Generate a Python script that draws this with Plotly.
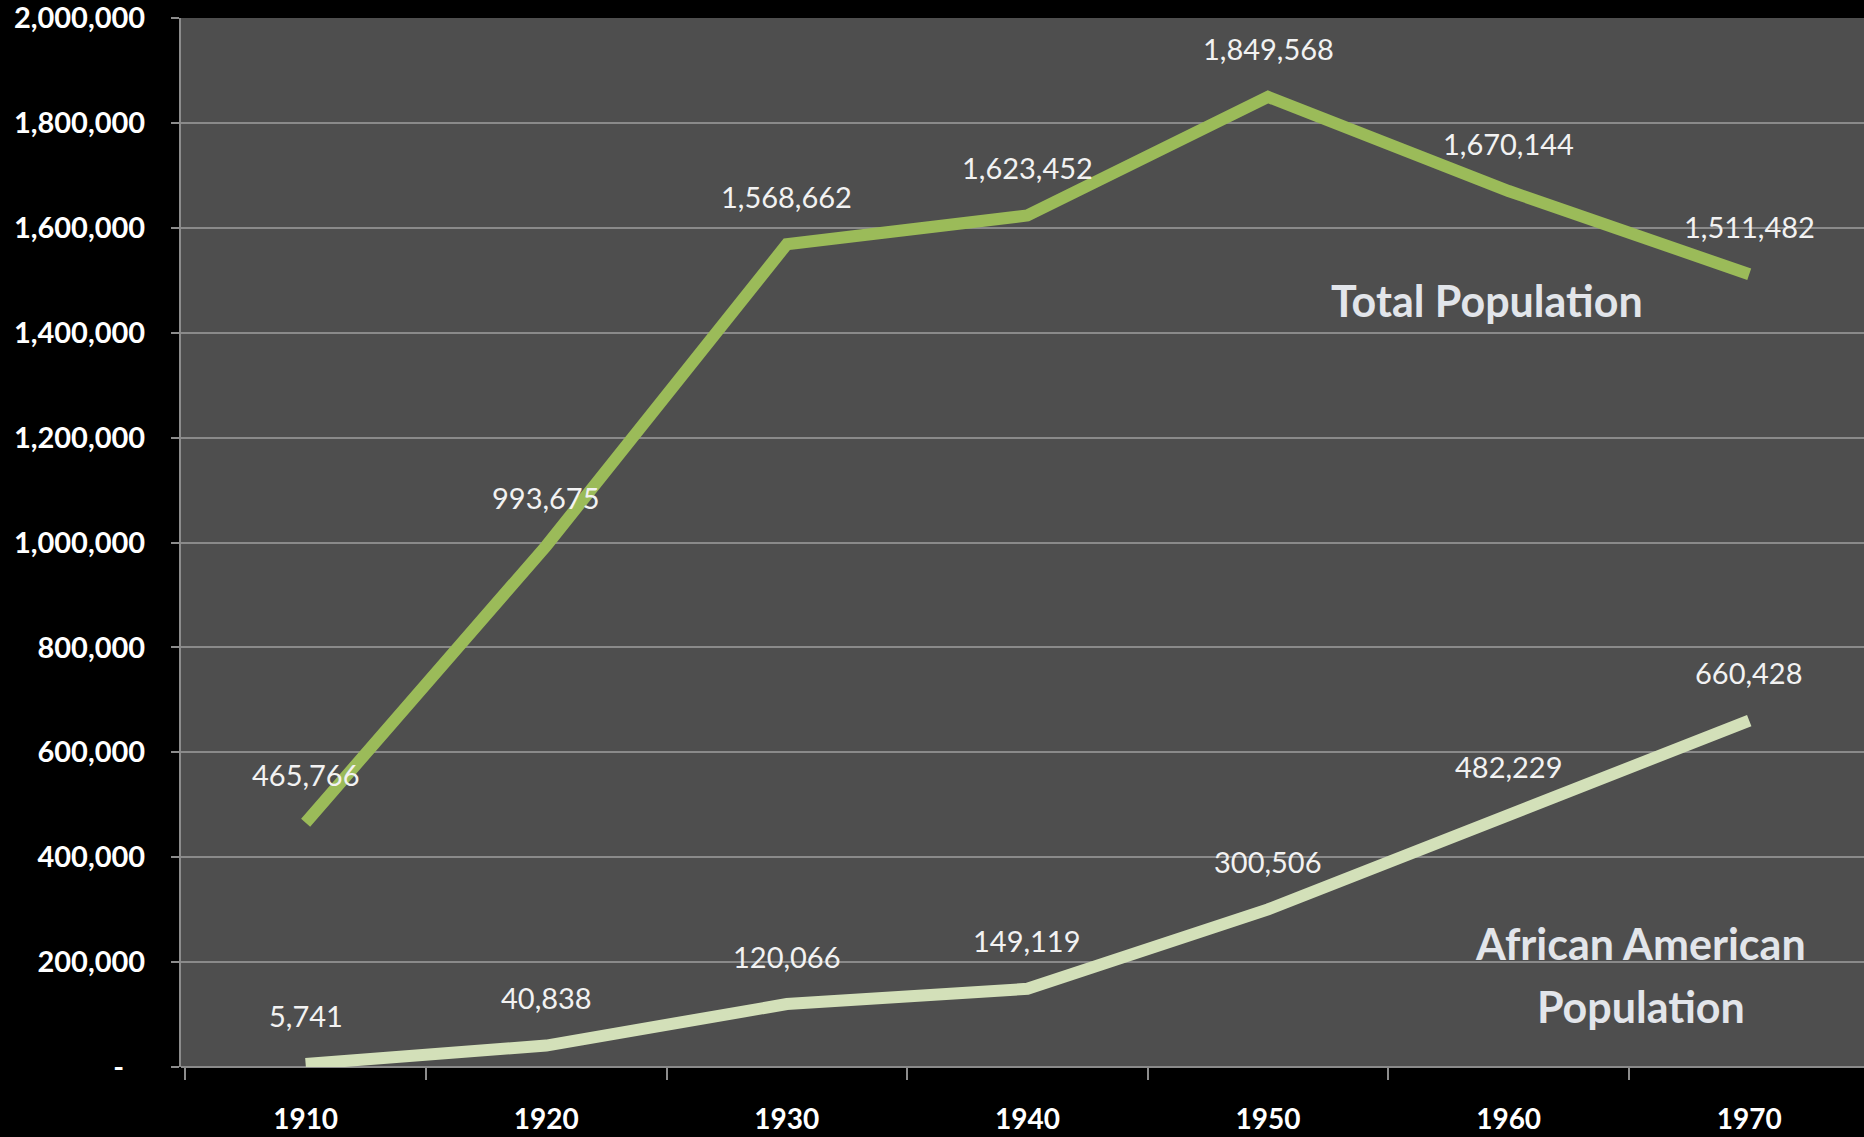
import plotly.graph_objects as go

years = ["1910", "1920", "1930", "1940", "1950", "1960", "1970"]
total_pop = [465766, 993675, 1568662, 1623452, 1849568, 1670144, 1511482]
aa_pop = [5741, 40838, 120066, 149119, 300506, 482229, 660428]
y_tickvals = [0, 200000, 400000, 600000, 800000, 1000000, 1200000, 1400000, 1600000, 1800000, 2000000]
y_ticktext = ["-\u00a0\u00a0\u00a0"] + [f"{v:,}" for v in y_tickvals[1:]]

TOTAL_COLOR = "#9bbb59"
AA_COLOR = "#d3e0b9"
FONT = "Lato"

fig = go.Figure()
fig.add_trace(go.Scatter(x=years, y=total_pop, mode="lines",
                         line=dict(color=TOTAL_COLOR, width=12), hoverinfo="skip"))
fig.add_trace(go.Scatter(x=years, y=aa_pop, mode="lines",
                         line=dict(color=AA_COLOR, width=12), hoverinfo="skip"))

annotations = []
for series in (total_pop, aa_pop):
    for i, v in enumerate(series):
        annotations.append(dict(x=i, y=v, xref="x", yref="y", text=f"{v:,}",
                                showarrow=False, yshift=48,
                                font=dict(family=FONT, size=29, color="#f2f2f2")))

label_font = dict(family=FONT, size=43, color="#e2e5ea", weight="bold")
annotations.append(dict(x=4.91, y=1462000, xref="x", yref="y", text="Total Population",
                        showarrow=False, font=label_font))
annotations.append(dict(x=5.55, y=236000, xref="x", yref="y", text="African American",
                        showarrow=False, font=label_font))
annotations.append(dict(x=5.55, y=116000, xref="x", yref="y", text="Population",
                        showarrow=False, font=label_font))

fig.update_layout(
    width=1864, height=1137,
    paper_bgcolor="#000000", plot_bgcolor="#4e4e4e",
    margin=dict(l=181, r=0, t=18, b=70),
    showlegend=False,
    annotations=annotations,
    xaxis=dict(type="category", range=[-0.518, 6.477], showgrid=False,
               tickson="boundaries", ticks="outside", ticklen=12, tickwidth=2,
               tickcolor="#8c8c8c", showline=False, zeroline=False,
               tickfont=dict(family=FONT, size=28, color="#ffffff", weight="bold"),
               ticklabelstandoff=33),
    yaxis=dict(range=[0, 2000000], tickvals=y_tickvals, ticktext=y_ticktext,
               showgrid=True, gridcolor="#8a8a8a", gridwidth=2,
               zeroline=True, zerolinecolor="#8a8a8a", zerolinewidth=2,
               showline=True, linecolor="#8c8c8c", linewidth=2,
               ticks="outside", ticklen=8, tickwidth=2, tickcolor="#8c8c8c",
               ticklabeloverflow="allow",
               tickfont=dict(family=FONT, size=29, color="#ffffff", weight="bold"),
               ticklabelstandoff=20),
)

fig.write_html("out.html", config={"displayModeBar": False},
               post_script="document.body.style.margin='0';document.body.style.background='#000';")
